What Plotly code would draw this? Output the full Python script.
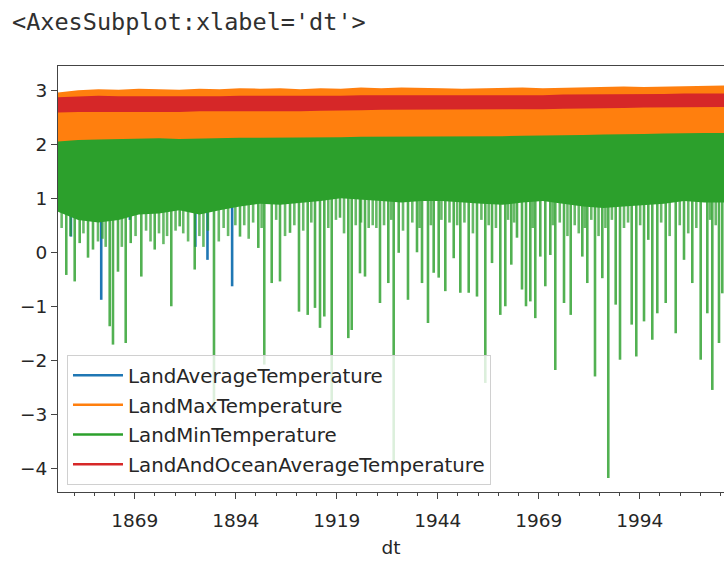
import plotly.graph_objects as go

# ---------------- data ----------------
series_names = ["LandAverageTemperature", "LandMaxTemperature",
                "LandMinTemperature", "LandAndOceanAverageTemperature"]
series_colors = ["#1f77b4", "#ff7f0e", "#2ca02c", "#d62728"]

# envelope of the dense monthly bands, sampled every 5 years
band_years = [1850, 1855, 1860, 1865, 1870, 1875, 1880, 1885, 1890, 1895,
              1900, 1905, 1910, 1915, 1920, 1925, 1930, 1935, 1940, 1945,
              1950, 1955, 1960, 1965, 1970, 1975, 1980, 1985, 1990, 1995,
              2000, 2005, 2010, 2016]
orange_hi = [2.96, 3.00, 3.02, 3.01, 3.03, 3.02, 3.01, 3.03, 3.02, 3.04,
             3.03, 3.04, 3.02, 3.04, 3.03, 3.05, 3.04, 3.05, 3.05, 3.04,
             3.03, 3.04, 3.04, 3.05, 3.04, 3.05, 3.06, 3.06, 3.07, 3.06,
             3.07, 3.08, 3.08, 3.09]
orange_lo = [1.95, 1.97, 1.98, 1.99, 2.00, 2.00, 2.00, 2.01, 2.01, 2.02,
             2.02, 2.02, 2.02, 2.03, 2.03, 2.04, 2.04, 2.05, 2.05, 2.05,
             2.05, 2.05, 2.05, 2.06, 2.06, 2.07, 2.07, 2.08, 2.08, 2.09,
             2.10, 2.11, 2.11, 2.11]
red_hi = [2.87, 2.89, 2.90, 2.89, 2.89, 2.88, 2.88, 2.89, 2.89, 2.90,
          2.90, 2.89, 2.89, 2.90, 2.90, 2.91, 2.91, 2.91, 2.91, 2.91,
          2.90, 2.90, 2.90, 2.91, 2.91, 2.92, 2.92, 2.92, 2.92, 2.93,
          2.93, 2.94, 2.94, 2.94]
red_lo = [2.59, 2.60, 2.60, 2.61, 2.61, 2.60, 2.60, 2.61, 2.61, 2.62,
          2.62, 2.61, 2.61, 2.62, 2.63, 2.63, 2.64, 2.64, 2.64, 2.64,
          2.64, 2.64, 2.64, 2.65, 2.65, 2.66, 2.66, 2.67, 2.67, 2.68,
          2.68, 2.69, 2.69, 2.69]
green_hi = [2.05, 2.08, 2.09, 2.10, 2.10, 2.11, 2.10, 2.11, 2.11, 2.12,
            2.12, 2.12, 2.12, 2.13, 2.13, 2.14, 2.14, 2.15, 2.15, 2.15,
            2.15, 2.15, 2.15, 2.16, 2.16, 2.17, 2.17, 2.18, 2.18, 2.19,
            2.20, 2.21, 2.21, 2.21]
green_lo = [0.75, 0.60, 0.55, 0.60, 0.70, 0.72, 0.78, 0.70, 0.78, 0.85,
            0.90, 0.88, 0.92, 0.95, 1.00, 0.98, 0.95, 0.92, 0.95, 0.95,
            0.92, 0.90, 0.88, 0.92, 0.95, 0.90, 0.85, 0.82, 0.85, 0.88,
            0.90, 0.95, 0.92, 0.92]

# yearly winter dips of LandMinTemperature (decimal year, value)
green_dip_years = [1852.05, 1854.13, 1855.37, 1857.43, 1858.66, 1862.80, 1863.61,
                   1864.85, 1866.76, 1868.00, 1870.62, 1873.94, 1878.04, 1880.12,
                   1883.84, 1888.61, 1895.05, 1899.58, 1901.06, 1902.90, 1904.95,
                   1907.43, 1909.65, 1911.81, 1913.61, 1914.85, 1915.92, 1917.75,
                   1919.80, 1921.86, 1922.70, 1924.75, 1925.99, 1929.70, 1931.76,
                   1933.09, 1934.33, 1936.63, 1938.86, 1940.10, 1941.58, 1942.99,
                   1944.23, 1945.87, 1947.95, 1949.58, 1951.66, 1953.71, 1955.77,
                   1957.43, 1959.48, 1960.72, 1962.20, 1963.61, 1964.85, 1965.84,
                   1966.91, 1968.14, 1969.38, 1970.62, 1971.86, 1973.09, 1975.25,
                   1976.91, 1979.78, 1981.01, 1982.92, 1984.73, 1986.21, 1988.04,
                   1989.11, 1992.00, 1993.14, 1995.05, 1996.11, 1997.10, 1998.34,
                   2000.42, 2002.90, 2004.95, 2007.00, 2009.08, 2010.72, 2011.96,
                   2013.61, 2014.43]
green_dip_values = [-0.42, -0.54, 0.17, -0.10, 0.05, -1.37, -1.71,
                    -0.36, -1.68, 0.17, -0.45, 0.05, -1.00, 0.48,
                    -0.32, -2.97, 0.29, 0.08, -2.08, -0.57, -0.54,
                    0.36, -1.10, -1.16, -1.03, -1.40, -1.19, -2.86,
                    0.64, -1.59, -1.44, -0.39, -0.45, -0.94, -0.57,
                    -3.90, -0.01, -0.88, 0.00, -0.57, -1.31, -0.38,
                    -0.47, -0.72, -0.11, -0.75, -0.75, -0.82, -2.42,
                    -0.20, -1.16, -1.00, -0.23, 0.27, -0.69, -1.00,
                    -0.91, -1.22, -0.08, -0.63, -0.05, -2.18, -0.94,
                    -1.16, -0.08, -0.57, -2.30, -0.48, -4.18, -0.97,
                    -1.99, -1.34, -1.93, -1.28, 0.23, -1.62, -1.13,
                    -0.94, -1.50, -0.14, -0.57, -1.99, -1.13, -2.55,
                    -1.68, -0.76]

# shorter winter dips forming the light fringe under the solid green band
green_fringe_years = [1850.9, 1853.1, 1856.3, 1859.9, 1861.0, 1861.8, 1865.8,
                      1869.2, 1871.8, 1872.9, 1875.0, 1876.1, 1877.0, 1879.1,
                      1881.0, 1882.2, 1885.0, 1886.0, 1887.1, 1889.8, 1891.0,
                      1892.1, 1893.9, 1896.1, 1897.2, 1898.3, 1900.4, 1904.0,
                      1906.2, 1908.5, 1910.7, 1912.7, 1916.9, 1918.8, 1920.8,
                      1923.7, 1925.0, 1926.9, 1927.9, 1928.8, 1930.7, 1932.5,
                      1935.4, 1937.7, 1939.5, 1942.3, 1944.9, 1946.9, 1948.8,
                      1950.6, 1952.7, 1954.8, 1956.6, 1958.4, 1961.4, 1962.9,
                      1967.5, 1972.5, 1974.2, 1976.1, 1977.9, 1978.9, 1980.4,
                      1982.0, 1983.8, 1985.5, 1987.1, 1990.1, 1991.1, 1994.1,
                      1999.3, 2001.4, 2003.9, 2006.0, 2008.0, 2011.4, 2012.8]
green_fringe_values = [0.45, 0.30, 0.35, 0.20, 0.25, 0.10, 0.10,
                       0.30, 0.40, 0.20, 0.35, 0.15, 0.30, 0.40,
                       0.35, 0.20, 0.30, 0.10, 0.40, 0.20, 0.45,
                       0.30, 0.50, 0.50, 0.25, 0.55, 0.45, 0.60,
                       0.30, 0.50, 0.40, 0.55, 0.45, 0.60, 0.35,
                       0.50, 0.55, 0.45, 0.50, 0.45, 0.50, 0.60,
                       0.40, 0.55, 0.45, 0.50, 0.60, 0.55, 0.50,
                       0.55, 0.35, 0.60, 0.50, 0.45, 0.60, 0.55,
                       0.45, 0.50, 0.55, 0.30, 0.50, 0.35, 0.45,
                       0.60, 0.30, 0.45, 0.60, 0.45, 0.55, 0.50,
                       0.55, 0.30, 0.50, 0.35, 0.45, 0.60, 0.50]

# visible dips of LandAverageTemperature
blue_dip_years = [1853.2, 1860.7, 1867.8, 1884.0, 1887.0, 1893.1]
blue_dip_values = [0.29, -0.88, 0.60, 0.10, -0.14, -0.63]

header_text = "&lt;AxesSubplot:xlabel='dt'&gt;"
x_label = "dt"
x_tick0, x_dtick = 1869, 25
y_tickvals = [-4, -3, -2, -1, 0, 1, 2, 3]


def band(xs, lo, hi):
    return xs + xs[::-1], hi + lo[::-1]


def dips(xs, vals, top):
    px, py = [], []
    for x, v in zip(xs, vals):
        px += [x, x, None]
        py += [top, v, None]
    return px, py


fig = go.Figure()

# legend entries (line samples, like matplotlib)
for name, col in zip(series_names, series_colors):
    fig.add_trace(go.Scatter(x=[None], y=[None], mode="lines", name=name,
                             legendgroup=name,
                             line=dict(color=col, width=2.5)))

# LandAverageTemperature (only its dips are visible)
bx, by = dips(blue_dip_years, blue_dip_values, 1.3)
fig.add_trace(go.Scatter(x=bx, y=by, mode="lines", showlegend=False,
                         line=dict(color=series_colors[0], width=2.6),
                         hoverinfo="skip"))

# LandMaxTemperature band
ox, oy = band(band_years, orange_lo, orange_hi)
fig.add_trace(go.Scatter(x=ox, y=oy, mode="lines", fill="toself",
                         fillcolor=series_colors[1], showlegend=False,
                         line=dict(width=0, color=series_colors[1]),
                         hoverinfo="skip"))

# LandMinTemperature dips + band
fx, fy = dips(green_fringe_years, green_fringe_values, 1.4)
fig.add_trace(go.Scatter(x=fx, y=fy, mode="lines", showlegend=False,
                         line=dict(color="rgba(44,160,44,0.72)", width=2.6),
                         hoverinfo="skip"))
gx, gy = dips(green_dip_years, green_dip_values, 1.4)
fig.add_trace(go.Scatter(x=gx, y=gy, mode="lines", showlegend=False,
                         line=dict(color="rgba(44,160,44,0.82)", width=2.6),
                         hoverinfo="skip"))
gbx, gby = band(band_years, green_lo, green_hi)
fig.add_trace(go.Scatter(x=gbx, y=gby, mode="lines", fill="toself",
                         fillcolor=series_colors[2], showlegend=False,
                         line=dict(width=0, color=series_colors[2]),
                         hoverinfo="skip"))

# LandAndOceanAverageTemperature band
rx, ry = band(band_years, red_lo, red_hi)
fig.add_trace(go.Scatter(x=rx, y=ry, mode="lines", fill="toself",
                         fillcolor=series_colors[3], showlegend=False,
                         line=dict(width=0, color=series_colors[3]),
                         hoverinfo="skip"))

axis_font = dict(family="DejaVu Sans", size=18.5, color="#262626")

fig.update_layout(
    width=724, height=562,
    margin=dict(l=58, r=0, t=66, b=70),
    paper_bgcolor="white", plot_bgcolor="white",
    showlegend=True,
    legend=dict(x=0.0135, y=0.017, xanchor="left", yanchor="bottom",
                bgcolor="rgba(255,255,255,0.8)", bordercolor="#d0d0d0",
                borderwidth=1, traceorder="grouped", tracegroupgap=1,
                itemwidth=50,
                font=dict(family="DejaVu Sans", size=19.8, color="#262626")),
    xaxis=dict(range=[1850, 2014.85], showgrid=False, zeroline=False,
               showline=True, linecolor="#444", linewidth=1.2, mirror=True,
               ticks="outside", ticklen=6, tickcolor="#444", tickwidth=1.2,
               tick0=x_tick0, dtick=x_dtick, tickfont=axis_font,
               ticklabelstandoff=6,
               minor=dict(ticks="outside", ticklen=3, tick0=x_tick0, dtick=5,
                          tickcolor="#444", showgrid=False),
               title=dict(text=x_label, font=axis_font, standoff=10)),
    yaxis=dict(range=[-4.44, 3.45], showgrid=False, zeroline=False,
               showline=True, linecolor="#444", linewidth=1.2, mirror=False,
               ticks="outside", ticklen=6, tickcolor="#444", tickwidth=1.2,
               tickvals=y_tickvals, tickfont=axis_font),
    annotations=[dict(text=header_text, xref="paper", yref="paper",
                      x=-0.072, y=1.103, xanchor="left", yanchor="middle",
                      showarrow=False,
                      font=dict(family="DejaVu Sans Mono", size=23.5,
                                color="#303030"))],
)

fig.write_html("out.html")
